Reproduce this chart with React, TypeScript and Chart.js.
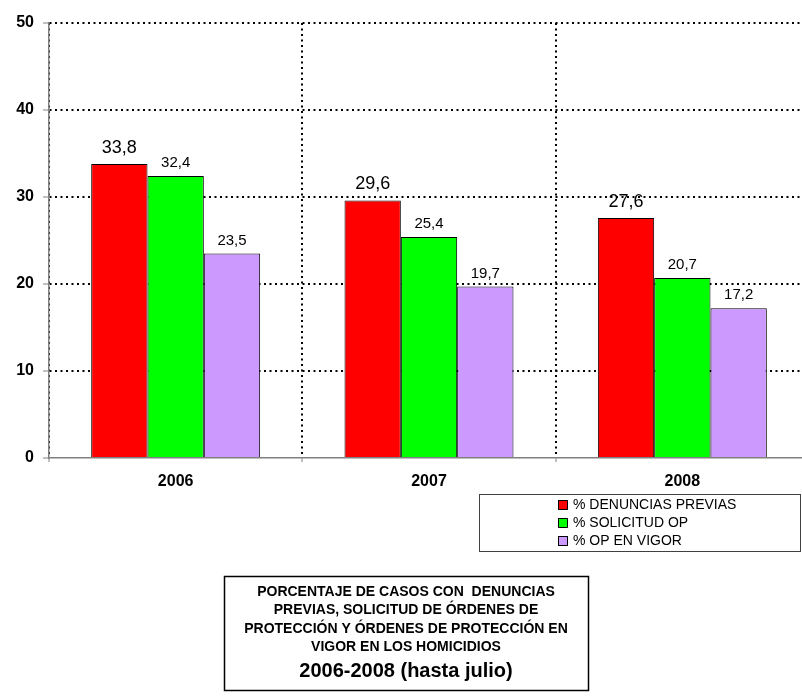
import { useEffect, useRef } from 'react';
import { Chart, registerables } from 'chart.js';

Chart.register(...registerables);

const FONT = '"Liberation Sans", Arial, Helvetica, sans-serif';

const categories = ['2006', '2007', '2008'];
const denunciasPrevias = [33.8, 29.6, 27.6];
const solicitudOP = [32.4, 25.4, 20.7];
const opEnVigor = [23.5, 19.7, 17.2];
const seriesLabels = ['% DENUNCIAS PREVIAS', '% SOLICITUD OP', '% OP EN VIGOR'];
const seriesColors = ['#FF0000', '#00FF00', '#CC99FF'];
const yTicks = [0, 10, 20, 30, 40, 50];
const titleLines = [
  'PORCENTAJE DE CASOS CON  DENUNCIAS',
  'PREVIAS, SOLICITUD DE ÓRDENES DE',
  'PROTECCIÓN Y ÓRDENES DE PROTECCIÓN EN',
  'VIGOR EN LOS HOMICIDIOS',
];
const titleYears = '2006-2008 (hasta julio)';

const fmt = (v: number) => v.toFixed(1).replace('.', ',');

const valueLabels = {
  id: 'valueLabels',
  afterDatasetsDraw(chart: any) {
    const ctx = chart.ctx;
    chart.data.datasets.forEach((ds: any, di: number) => {
      const meta = chart.getDatasetMeta(di);
      meta.data.forEach((el: any, i: number) => {
        ctx.save();
        ctx.font = (di === 0 ? '18px ' : '15px ') + FONT;
        ctx.fillStyle = '#000';
        ctx.textAlign = 'center';
        ctx.textBaseline = 'alphabetic';
        ctx.fillText(fmt(ds.data[i]), el.x, el.y - (di === 0 ? 11 : 9));
        ctx.restore();
      });
    });
  },
};

const boxes = {
  id: 'boxes',
  afterDraw(chart: any) {
    const ctx = chart.ctx;
    ctx.save();
    // legend box
    ctx.strokeStyle = '#404040';
    ctx.lineWidth = 1;
    ctx.strokeRect(479.5, 494.5, 321, 57);
    chart.data.datasets.forEach((ds: any, di: number) => {
      const y = 500 + di * 18;
      ctx.fillStyle = ds.backgroundColor;
      ctx.fillRect(558, y, 10, 10);
      ctx.strokeStyle = '#000';
      ctx.strokeRect(558.5, y + 0.5, 9, 9);
      ctx.fillStyle = '#000';
      ctx.font = '14px ' + FONT;
      ctx.textAlign = 'left';
      ctx.textBaseline = 'middle';
      ctx.fillText(ds.label, 573, y + 5);
    });
    // title box
    ctx.strokeStyle = '#000';
    ctx.lineWidth = 1.5;
    ctx.strokeRect(224.5, 576.5, 364, 114);
    ctx.fillStyle = '#000';
    ctx.textAlign = 'center';
    ctx.textBaseline = 'middle';
    ctx.font = 'bold 14px ' + FONT;
    titleLines.forEach((line, i) => {
      ctx.fillText(line, 406, 592 + i * 18.5);
    });
    ctx.font = 'bold 20px ' + FONT;
    ctx.fillText(titleYears, 406, 671);
    ctx.restore();
  },
};

export default function App() {
  const ref = useRef<HTMLCanvasElement>(null);
  useEffect(() => {
    if (!ref.current) return;
    const chart = new Chart(ref.current, {
      type: 'bar',
      data: {
        labels: categories,
        datasets: [
          { label: seriesLabels[0], data: denunciasPrevias, backgroundColor: seriesColors[0] },
          { label: seriesLabels[1], data: solicitudOP, backgroundColor: seriesColors[1] },
          { label: seriesLabels[2], data: opEnVigor, backgroundColor: seriesColors[2] },
        ].map((d) => ({
          ...d,
          borderColor: '#000',
          borderWidth: 1,
          categoryPercentage: 0.667,
          barPercentage: 1,
        })),
      },
      options: {
        responsive: false,
        animation: false,
        devicePixelRatio: 1,
        layout: { padding: { left: 0, top: 23, right: 21, bottom: 198 } },
        plugins: {
          legend: { display: false },
          tooltip: { enabled: false },
          title: { display: false },
        },
        scales: {
          x: {
            type: 'category',
            offset: true,
            grid: {
              offset: true,
              color: '#000',
              lineWidth: 2,
              tickColor: '#808080',
              tickLength: 4,
              tickWidth: 1,
              tickBorderDash: [],
            },
            border: { display: true, color: '#808080', width: 1.5, dash: [2, 3.5] },
            ticks: {
              color: '#000',
              font: { family: FONT, size: 16, weight: 'bold' },
              padding: 10,
            },
            afterFit: (s: any) => {
              s.height = 40;
            },
          },
          y: {
            min: 0,
            max: 50,
            afterBuildTicks: (s: any) => {
              s.ticks = yTicks.map((v) => ({ value: v }));
            },
            grid: {
              color: (c: any) => (c.tick && c.tick.value === 0 ? 'rgba(0,0,0,0)' : '#000'),
              lineWidth: 2,
              tickColor: '#808080',
              tickLength: 6,
              tickWidth: 1,
              tickBorderDash: [],
            },
            border: { display: true, color: '#808080', width: 1.5, dash: [2, 3.5] },
            ticks: {
              color: '#000',
              font: { family: FONT, size: 16, weight: 'bold' },
              padding: 9,
            },
            afterFit: (s: any) => {
              s.width = 49;
            },
          },
        },
      },
      plugins: [valueLabels, boxes],
    } as any);
    return () => chart.destroy();
  }, []);
  return (
    <div
      style={{
        position: 'fixed',
        left: 0,
        top: 0,
        width: 802,
        height: 696,
        overflow: 'hidden',
        background: '#fff',
      }}
    >
      <canvas ref={ref} width={830} height={696} style={{ display: 'block' }} />
    </div>
  );
}
